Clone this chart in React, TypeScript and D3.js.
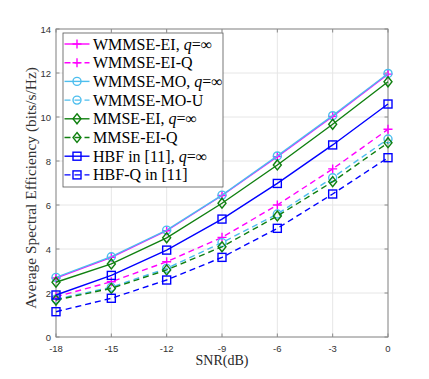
import React from 'react';
import * as d3 from 'd3';

// SNR grid (dB)
const snr = [-18, -15, -12, -9, -6, -3, 0];

// series values
const wmmseEi = [2.68, 3.62, 4.83, 6.43, 8.2, 10.03, 11.95];
const wmmseEiQ = [1.83, 2.51, 3.42, 4.53, 6.0, 7.64, 9.44];
const wmmseMo = [2.71, 3.65, 4.86, 6.45, 8.23, 10.06, 11.98];
const wmmseMoU = [1.72, 2.26, 3.12, 4.29, 5.59, 7.24, 9.0];
const mmseEi = [2.49, 3.32, 4.51, 6.08, 7.82, 9.67, 11.6];
const mmseEiQ = [1.68, 2.21, 3.05, 4.1, 5.5, 7.06, 8.83];
const hbf = [1.91, 2.8, 3.95, 5.36, 6.98, 8.73, 10.59];
const hbfQ = [1.15, 1.76, 2.59, 3.62, 4.94, 6.5, 8.15];

const xTicks = [-18, -15, -12, -9, -6, -3, 0];
const yTicks = [0, 2, 4, 6, 8, 10, 12, 14];

type Marker = 'plus' | 'circle' | 'diamond' | 'square';

const series = [
  { name: 'WMMSE-EI', inf: true, values: wmmseEi, color: '#ff00ff', dashed: false, marker: 'plus' as Marker },
  { name: 'WMMSE-EI-Q', inf: false, values: wmmseEiQ, color: '#ff00ff', dashed: true, marker: 'plus' as Marker },
  { name: 'WMMSE-MO', inf: true, values: wmmseMo, color: '#4dbeee', dashed: false, marker: 'circle' as Marker },
  { name: 'WMMSE-MO-U', inf: false, values: wmmseMoU, color: '#4dbeee', dashed: true, marker: 'circle' as Marker },
  { name: 'MMSE-EI', inf: true, values: mmseEi, color: '#108010', dashed: false, marker: 'diamond' as Marker },
  { name: 'MMSE-EI-Q', inf: false, values: mmseEiQ, color: '#108010', dashed: true, marker: 'diamond' as Marker },
  { name: 'HBF in [11]', inf: true, values: hbf, color: '#0000ff', dashed: false, marker: 'square' as Marker },
  { name: 'HBF-Q in [11]', inf: false, values: hbfQ, color: '#0000ff', dashed: true, marker: 'square' as Marker },
];

function MarkerShape({ type, x, y, color }: { type: Marker; x: number; y: number; color: string }) {
  const common = { fill: 'none', stroke: color, strokeWidth: 1.4 };
  if (type === 'plus') {
    return <path d={`M${x - 4.5},${y}H${x + 4.5}M${x},${y - 4.5}V${y + 4.5}`} {...common} />;
  }
  if (type === 'circle') return <circle cx={x} cy={y} r={4} {...common} />;
  if (type === 'diamond') {
    return <path d={`M${x},${y - 5}L${x + 4},${y}L${x},${y + 5}L${x - 4},${y}Z`} {...common} />;
  }
  return <rect x={x - 4} y={y - 4} width={8} height={8} {...common} />;
}

export default function App() {
  const width = 429;
  const height = 379;
  const margin = { left: 56, right: 41, top: 29, bottom: 42 };

  const x = d3.scaleLinear().domain([-18, 0]).range([margin.left, width - margin.right]);
  const y = d3.scaleLinear().domain([0, 14]).range([height - margin.bottom, margin.top]);

  const line = d3.line<number>()
    .x((d, i) => x(snr[i]))
    .y(d => y(d));

  const [x0, x1] = x.range();
  const [y0, y1] = y.range();
  const tickFont = '"Liberation Sans", Arial, sans-serif';
  const serif = '"Liberation Serif", "Times New Roman", serif';
  const axisColor = '#8a8a8a';

  // legend layout
  const lgX = 63;
  const lgY = 33;
  const lgW = 160;
  const lgH = 154;
  const rowH = 18.7;

  return (
    <svg width={width} height={height} style={{ position: 'absolute', left: 0, top: 0, background: '#fff' }}>
      {/* grid */}
      {xTicks.map(t => (
        <line key={'gx' + t} x1={x(t)} x2={x(t)} y1={y0} y2={y1} stroke="#e6e6e6" strokeWidth={1} />
      ))}
      {yTicks.map(t => (
        <line key={'gy' + t} x1={x0} x2={x1} y1={y(t)} y2={y(t)} stroke="#e6e6e6" strokeWidth={1} />
      ))}

      {/* box */}
      <rect x={x0} y={y1} width={x1 - x0} height={y0 - y1} fill="none" stroke={axisColor} strokeWidth={1} />

      {/* ticks */}
      {xTicks.map(t => (
        <g key={'tx' + t}>
          <line x1={x(t)} x2={x(t)} y1={y0} y2={y0 - 3.5} stroke={axisColor} strokeWidth={1} />
          <line x1={x(t)} x2={x(t)} y1={y1} y2={y1 + 3.5} stroke={axisColor} strokeWidth={1} />
          <text x={x(t)} y={y0 + 14.5} textAnchor="middle" fontFamily={tickFont} fontSize={9.5} fill="#333">{t}</text>
        </g>
      ))}
      {yTicks.map(t => (
        <g key={'ty' + t}>
          <line x1={x0} x2={x0 + 3.5} y1={y(t)} y2={y(t)} stroke={axisColor} strokeWidth={1} />
          <line x1={x1} x2={x1 - 3.5} y1={y(t)} y2={y(t)} stroke={axisColor} strokeWidth={1} />
          <text x={x0 - 5} y={y(t) + 3.5} textAnchor="end" fontFamily={tickFont} fontSize={9.5} fill="#333">{t}</text>
        </g>
      ))}

      {/* axis labels */}
      <text x={(x0 + x1) / 2} y={365} textAnchor="middle" fontFamily={serif} fontSize={14} fill="#262626">SNR(dB)</text>
      <text transform={`translate(36,188) rotate(-90)`} textAnchor="middle" fontFamily={serif} fontSize={15.4} fill="#333">
        Average Spectral Efficiency (bits/s/Hz)
      </text>

      {/* series */}
      {series.map(s => (
        <g key={s.name}>
          <path d={line(s.values) || ''} fill="none" stroke={s.color} strokeWidth={1.4} strokeDasharray={s.dashed ? '6,4' : undefined} />
          {s.values.map((v, i) => (
            <MarkerShape key={i} type={s.marker} x={x(snr[i])} y={y(v)} color={s.color} />
          ))}
        </g>
      ))}

      {/* legend */}
      <rect x={lgX} y={lgY} width={lgW} height={lgH} fill="#fff" stroke="#555" strokeWidth={0.8} />
      {series.map((s, i) => {
        const cy = lgY + 11 + i * rowH;
        return (
          <g key={'lg' + s.name}>
            <line x1={lgX + 1.5} x2={lgX + 26.5} y1={cy} y2={cy} stroke={s.color} strokeWidth={1.4} strokeDasharray={s.dashed ? '6,4' : undefined} />
            <MarkerShape type={s.marker} x={lgX + 14} y={cy} color={s.color} />
            <text x={lgX + 30} y={cy + 5.5} fontFamily={serif} fontSize={16} fill="#000">
              {s.inf ? (
                <>
                  {s.name}, <tspan fontStyle="italic">q</tspan>=∞
                </>
              ) : s.name}
            </text>
          </g>
        );
      })}
    </svg>
  );
}
